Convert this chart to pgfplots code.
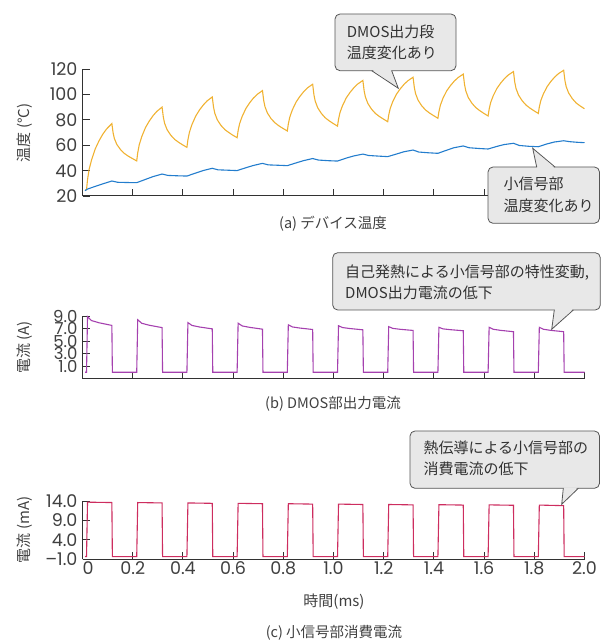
\documentclass[border=0pt]{standalone}
\usepackage{fontspec}
\setmainfont{Noto Sans CJK JP}
\newfontfamily\tickfont{Poppins}
\usepackage{pgfplots}
\pgfplotsset{compat=1.18}
\definecolor{corange}{RGB}{240,178,50}
\definecolor{cblue}{RGB}{35,125,205}
\definecolor{cpurple}{RGB}{165,65,175}
\definecolor{cred}{RGB}{205,45,95}
\definecolor{cfill}{RGB}{232,232,232}
\definecolor{cdraw}{RGB}{85,85,85}
\definecolor{ctext}{RGB}{50,50,50}
\definecolor{caxis}{RGB}{50,50,50}
\pgfplotsset{
  myaxis/.style={
    scale only axis, width=502pt, xmin=0, xmax=2,
    axis x line*=bottom, axis y line*=left,
    axis line style={line width=1pt, color=caxis, -},
    tick style={line width=0.9pt, color=caxis},
    major tick length=7pt,
    tick align=inside,
    xtick={0.2,0.4,0.6,0.8,1.0,1.2,1.4,1.6,1.8,2.0},
    xticklabels={},
    /pgf/number format/assume math mode=true,
    tick label style={font=\tickfont\fontsize{17.5}{18}\selectfont, text=black!75},
    yticklabel style={xshift=-1.5pt, inner ysep=0pt},
    xticklabel style={yshift=1pt},
  }
}
\begin{document}
\begin{tikzpicture}
% (a)
\begin{axis}[myaxis, at={(82.5pt,444pt)}, anchor=south west, height=127pt,
  ymin=20, ymax=120, ytick={20,40,60,80,100,120}, yticklabels={20,40,60,80,100,120}]
\addplot[corange, line width=1.1pt] coordinates {
(0.010,24.5)(0.016,25)(0.020,32.8)(0.026,40.6)(0.036,48.4)(0.051,57.2)(0.066,63.5)(0.081,68.7)(0.096,72.8)(0.117,77)
(0.122,69.65)(0.127,65.2)(0.137,60.5)(0.152,56.4)(0.167,53.5)(0.182,51.4)(0.197,49.7)(0.216,47.6)
(0.220,54.0)(0.226,60.3)(0.236,66.7)(0.251,73.9)(0.266,79.0)(0.281,83.2)(0.296,86.6)(0.317,90)
(0.322,82.1)(0.327,77.3)(0.337,72.2)(0.352,67.8)(0.367,64.6)(0.382,62.4)(0.397,60.5)(0.416,58.3)
(0.420,64.3)(0.426,70.2)(0.436,76.2)(0.451,82.9)(0.466,87.7)(0.481,91.6)(0.496,94.8)(0.517,98)
(0.522,90.0)(0.527,85.2)(0.537,80.0)(0.552,75.5)(0.567,72.3)(0.582,70.1)(0.597,68.1)(0.616,65.9)
(0.620,71.5)(0.626,77.0)(0.636,82.6)(0.651,88.9)(0.666,93.4)(0.681,97.1)(0.696,100.0)(0.717,103)
(0.722,95.1)(0.727,90.3)(0.737,85.2)(0.752,80.7)(0.767,77.6)(0.782,75.3)(0.797,73.4)(0.816,71.2)
(0.820,76.7)(0.826,82.2)(0.836,87.8)(0.851,94.0)(0.866,98.4)(0.881,102.1)(0.896,105.1)(0.917,108)
(0.922,99.75)(0.927,94.8)(0.937,89.5)(0.952,84.9)(0.967,81.6)(0.982,79.3)(0.997,77.3)(1.016,75)
(1.020,80.4)(1.026,85.8)(1.036,91.2)(1.051,97.3)(1.066,101.6)(1.081,105.2)(1.096,108.1)(1.117,111)
(1.122,102.9)(1.127,98.0)(1.137,92.8)(1.152,88.25)(1.167,85.0)(1.182,82.7)(1.197,80.8)(1.216,78.5)
(1.220,83.75)(1.226,89.0)(1.236,94.25)(1.251,100.2)(1.266,104.4)(1.281,107.9)(1.296,110.7)(1.317,113.5)
(1.322,105.4)(1.327,100.6)(1.337,95.4)(1.352,90.9)(1.367,87.7)(1.382,85.4)(1.397,83.5)(1.416,81.2)
(1.420,86.4)(1.426,91.6)(1.436,96.9)(1.451,102.8)(1.466,106.95)(1.481,110.4)(1.496,113.2)(1.517,116)
(1.522,107.75)(1.527,102.8)(1.537,97.5)(1.552,92.9)(1.567,89.6)(1.582,87.3)(1.597,85.3)(1.616,83)
(1.620,88.25)(1.626,93.5)(1.636,98.75)(1.651,104.7)(1.666,108.9)(1.681,112.4)(1.696,115.2)(1.717,118)
(1.722,109.75)(1.727,104.8)(1.737,99.5)(1.752,94.9)(1.767,91.6)(1.782,89.3)(1.797,87.3)(1.816,85)
(1.820,90.1)(1.826,95.2)(1.836,100.3)(1.851,106.1)(1.866,110.2)(1.881,113.6)(1.896,116.3)(1.917,119)
(1.922,110.95)(1.927,106.1)(1.937,101.0)(1.952,96.5)(1.967,93.2)(1.982,91.0)(2.000,88.7)
};
\addplot[cblue, line width=1.1pt] coordinates {
(0.01,24.2)(0.02,25.5)(0.05,27.5)(0.08,29.5)(0.117,31.8)(0.14,30.8)(0.18,30.6)(0.216,30.5)
(0.25,33)(0.28,35.2)(0.317,37.3)(0.34,36.2)(0.38,35.9)(0.416,35.7)
(0.45,38)(0.48,40)(0.517,41.8)(0.54,40.6)(0.58,40.3)(0.616,40)
(0.65,42.2)(0.68,44)(0.717,45.7)(0.74,44.5)(0.78,44.2)(0.816,43.9)
(0.85,46)(0.88,47.8)(0.917,49.5)(0.94,48.3)(0.98,47.8)(1.016,47.5)
(1.05,49.8)(1.08,51.5)(1.117,53)(1.14,51.9)(1.18,51.4)(1.216,51)
(1.25,53)(1.28,54.8)(1.317,56.2)(1.34,54.6)(1.38,54)(1.416,53.6)
(1.45,56)(1.48,58)(1.517,59.4)(1.54,58)(1.58,57.4)(1.616,57)
(1.65,59)(1.68,60.5)(1.717,61.5)(1.74,59.8)(1.78,59.1)(1.816,58.8)
(1.85,61)(1.88,62.5)(1.917,63.5)(1.94,62.8)(1.97,62.3)(2.0,62)
};
\end{axis}
% (b)
\begin{axis}[myaxis, at={(82.5pt,261.2pt)}, anchor=south west, height=62.8pt,
  ymin=-1, ymax=9, ytick={1,3,5,7,9}, yticklabels={1.0,3.0,5.0,7.0,9.0},
  yticklabel style={font=\tickfont\fontsize{16.5}{17}\selectfont}]
\addplot[cpurple, line width=1.1pt] coordinates {
(0.010,0.05)(0.016,0.05)(0.020,8.9)(0.036,8.27)(0.066,7.92)(0.117,7.5)(0.119,0.05)
(0.216,0.05)(0.220,8.4)(0.236,7.84)(0.266,7.53)(0.317,7.15)(0.319,0.05)
(0.416,0.05)(0.420,7.95)(0.436,7.5)(0.466,7.25)(0.517,6.95)(0.519,0.05)
(0.616,0.05)(0.620,7.85)(0.636,7.42)(0.666,7.19)(0.717,6.9)(0.719,0.05)
(0.816,0.05)(0.820,7.6)(0.836,7.26)(0.866,7.08)(0.917,6.85)(0.919,0.05)
(1.016,0.05)(1.020,7.45)(1.036,7.16)(1.066,7.0)(1.117,6.8)(1.119,0.05)
(1.216,0.05)(1.220,7.3)(1.236,7.03)(1.266,6.88)(1.317,6.7)(1.319,0.05)
(1.416,0.05)(1.420,7.2)(1.436,6.95)(1.466,6.82)(1.517,6.65)(1.519,0.05)
(1.616,0.05)(1.620,7.2)(1.636,6.89)(1.666,6.71)(1.717,6.5)(1.719,0.05)
(1.816,0.05)(1.820,7.2)(1.836,6.89)(1.866,6.71)(1.917,6.5)(1.919,0.05)
(2.000,0.05)
};
\end{axis}
% (c)
\begin{axis}[myaxis, at={(82.5pt,80.7pt)}, anchor=south west, height=58.3pt,
  ymin=-1, ymax=14, ytick={-1,4,9,14}, yticklabels={\textendash1.0,4.0,9.0,14.0},
  xtick={0,0.2,0.4,0.6,0.8,1.0,1.2,1.4,1.6,1.8,2.0},
  xticklabels={\makebox[0pt][l]{0},0.2,0.4,0.6,0.8,1.0,1.2,1.4,1.6,1.8,2.0}]
\addplot[cred, line width=1.1pt] coordinates {
(0.010,-0.3)(0.016,-0.3)(0.020,13.7)(0.117,13.6)(0.119,-0.3)
(0.216,-0.3)(0.220,13.6)(0.317,13.5)(0.319,-0.3)
(0.416,-0.3)(0.420,13.5)(0.517,13.4)(0.519,-0.3)
(0.616,-0.3)(0.620,13.4)(0.717,13.3)(0.719,-0.3)
(0.816,-0.3)(0.820,13.3)(0.917,13.2)(0.919,-0.3)
(1.016,-0.3)(1.020,13.2)(1.117,13.1)(1.119,-0.3)
(1.216,-0.3)(1.220,13.1)(1.317,13.0)(1.319,-0.3)
(1.416,-0.3)(1.420,13.05)(1.517,12.95)(1.519,-0.3)
(1.616,-0.3)(1.620,13.0)(1.717,12.9)(1.719,-0.3)
(1.816,-0.3)(1.820,12.95)(1.917,12.8)(1.919,-0.3)
(2.000,-0.3)
};
\end{axis}
% annotations in pixel coordinates (y down)
\begin{scope}[x=1pt, y=-1pt, shift={(0pt,640pt)}]
\tikzset{lab/.style={font=\fontsize{15}{15}\selectfont, text=black!75},
         capt/.style={font=\fontsize{14.5}{15}\selectfont, text=black!75},
         ctxt/.style={font=\fontsize{15}{21.5}\selectfont, text=ctext, align=left, anchor=west, inner sep=0pt}}
\node[lab, rotate=90] at (25,133) {温度 (°C)};
\node[lab, rotate=90] at (25,347.4) {電流 (A)};
\node[lab, rotate=90] at (25,530) {電流 (mA)};
\node[capt] at (333,224) {(a) デバイス温度};
\node[capt] at (333,404) {(b) DMOS部出力電流};
\node[lab] at (334,602) {時間(ms)};
\node[capt] at (334,633) {(c) 小信号部消費電流};
% callout 1
\filldraw[fill=cfill, draw=cdraw, line width=0.8pt, rounded corners=5pt] (335,14) rectangle (456,70.7);
\fill[cfill] (372.5,69.8) -- (398.3,88.3) -- (391,69.8) -- cycle;
\draw[cdraw, line width=0.8pt] (371.7,70.7) -- (398.3,88.3) -- (391.7,70.7);
\node[ctxt] at (346.7,42.5) {DMOS出力段\\温度変化あり};
% callout 2
\filldraw[fill=cfill, draw=cdraw, line width=0.8pt, rounded corners=5pt] (488,167) rectangle (599.5,223.3);
\fill[cfill] (537.3,167.9) -- (532.7,148.3) -- (554.2,167.9) -- cycle;
\draw[cdraw, line width=0.8pt] (536.7,167) -- (532.7,148.3) -- (555,167);
\node[ctxt] at (503.3,195) {小信号部\\温度変化あり};
% callout 3
\filldraw[fill=cfill, draw=cdraw, line width=0.8pt, rounded corners=5pt] (332.7,252.7) rectangle (600.3,310);
\fill[cfill] (555,309.1) -- (551.7,329.3) -- (572.5,309.1) -- cycle;
\draw[cdraw, line width=0.8pt] (554.3,310) -- (551.7,329.3) -- (573.3,310);
\node[ctxt] at (345,282.5) {自己発熱による小信号部の特性変動,\\DMOS出力電流の低下};
% callout 4
\filldraw[fill=cfill, draw=cdraw, line width=0.8pt, rounded corners=5pt] (410,431) rectangle (599.5,488.3);
\fill[cfill] (564,487.4) -- (561.7,504.3) -- (577.5,487.4) -- cycle;
\draw[cdraw, line width=0.8pt] (563.3,488.3) -- (561.7,504.3) -- (578.3,488.3);
\node[ctxt] at (423.3,458.3) {熱伝導による小信号部の\\消費電流の低下};
\end{scope}
\pgfresetboundingbox
\useasboundingbox (0pt,0pt) rectangle (601pt,640pt);
\end{tikzpicture}
\end{document}
